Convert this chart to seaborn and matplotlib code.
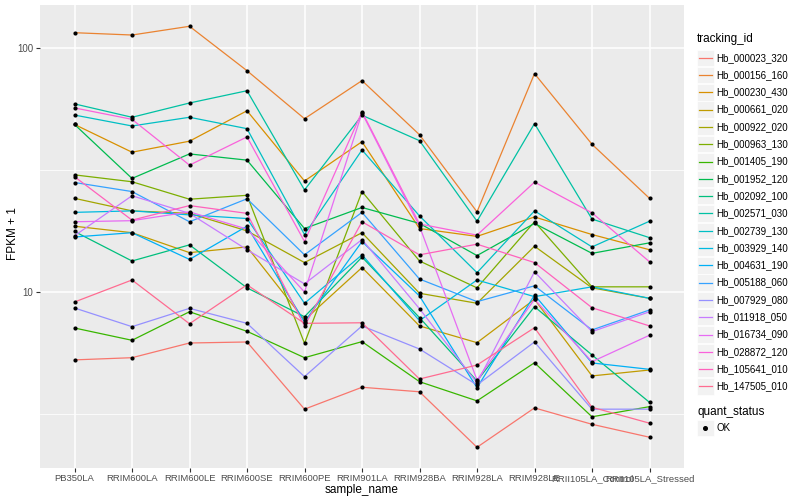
import matplotlib
matplotlib.use("Agg")
import matplotlib.pyplot as plt
from matplotlib.lines import Line2D
from matplotlib.patches import Rectangle
from matplotlib.ticker import FixedLocator, NullFormatter
import pandas as pd
import seaborn as sns

# samples on the x axis
samples = ["PB350LA", "RRIM600LA", "RRIM600LE", "RRIM600SE", "RRIM600PE", "RRIM901LA",
           "RRIM928BA", "RRIM928LA", "RRIM928LE", "RRII105LA_Control", "RRII105LA_Stressed"]

# FPKM + 1 per gene
hb_000023_320 = [5.27, 5.38, 6.18, 6.24, 3.31, 4.07, 3.90, 2.31, 3.35, 2.87, 2.54]
hb_000156_160 = [115.5, 113, 122.7, 80.7, 51.3, 73.5, 44.1, 21.3, 78.5, 40.3, 24.2]
hb_000230_430 = [48.6, 37.4, 41.5, 55.3, 28.5, 41.3, 18.2, 16.9, 20.3, 17.2, 14.9]
hb_000661_020 = [18.6, 17.5, 14.5, 15.3, 7.68, 12.6, 7.26, 6.20, 9.33, 4.53, 4.79]
hb_000922_020 = [24.2, 21.5, 21.0, 17.8, 13.2, 17.5, 9.88, 8.99, 15.4, 10.4, 9.42]
hb_000963_130 = [30.2, 28.3, 24.0, 24.9, 6.16, 25.8, 13.4, 10.4, 19.4, 10.5, 10.5]
hb_001405_190 = [7.12, 6.34, 8.30, 6.90, 5.38, 6.26, 4.29, 3.58, 5.13, 3.08, 3.39]
hb_001952_120 = [48.6, 29.2, 36.8, 34.7, 18.2, 22.2, 19.1, 14.1, 19.1, 14.4, 15.9]
hb_002092_100 = [17.7, 13.4, 15.6, 10.4, 7.92, 13.9, 7.85, 4.32, 8.71, 5.52, 3.53]
hb_002571_030 = [59.0, 52.0, 59.5, 66.8, 26.2, 53.0, 41.7, 19.5, 49.0, 19.9, 16.7]
hb_002739_130 = [53.1, 47.9, 52.0, 46.7, 17.2, 38.2, 20.5, 12.0, 21.5, 15.3, 19.5]
hb_003929_140 = [21.2, 21.5, 20.7, 20.0, 8.99, 14.2, 7.63, 11.2, 9.57, 10.5, 9.42]
hb_004631_190 = [16.8, 17.5, 13.6, 18.6, 7.53, 16.1, 9.63, 4.05, 9.72, 5.12, 4.82]
hb_005188_060 = [28.1, 25.8, 19.4, 24.1, 14.2, 21.2, 11.3, 9.13, 10.6, 6.99, 8.44]
hb_007929_080 = [8.60, 7.21, 8.57, 7.44, 4.50, 7.26, 5.84, 4.16, 6.24, 3.31, 3.31]
hb_011918_050 = [17.0, 24.8, 21.0, 14.9, 10.8, 16.4, 8.54, 4.24, 12.1, 6.88, 8.30]
hb_016734_090 = [19.4, 19.6, 21.3, 18.1, 10.0, 54.2, 18.6, 4.36, 9.33, 5.18, 6.65]
hb_028872_120 = [56.8, 51.0, 33.1, 43.2, 16.1, 54.8, 19.0, 17.1, 28.2, 21.1, 13.3]
hb_105641_010 = [29.7, 19.7, 22.6, 21.0, 7.26, 19.4, 14.2, 15.7, 13.2, 8.62, 7.26]
hb_147505_010 = [9.10, 11.2, 7.41, 10.7, 7.44, 7.48, 4.40, 5.02, 7.14, 3.37, 2.90]

tracking_ids = ["Hb_000023_320", "Hb_000156_160", "Hb_000230_430", "Hb_000661_020",
                "Hb_000922_020", "Hb_000963_130", "Hb_001405_190", "Hb_001952_120",
                "Hb_002092_100", "Hb_002571_030", "Hb_002739_130", "Hb_003929_140",
                "Hb_004631_190", "Hb_005188_060", "Hb_007929_080", "Hb_011918_050",
                "Hb_016734_090", "Hb_028872_120", "Hb_105641_010", "Hb_147505_010"]
series = [hb_000023_320, hb_000156_160, hb_000230_430, hb_000661_020, hb_000922_020,
          hb_000963_130, hb_001405_190, hb_001952_120, hb_002092_100, hb_002571_030,
          hb_002739_130, hb_003929_140, hb_004631_190, hb_005188_060, hb_007929_080,
          hb_011918_050, hb_016734_090, hb_028872_120, hb_105641_010, hb_147505_010]

# ggplot2 default hue palette for 20 levels
colors = ["#F8766D", "#EA8331", "#D89000", "#C09B00", "#A3A500", "#7CAE00", "#39B600",
          "#00BB4E", "#00BF7D", "#00C1A3", "#00BFC4", "#00BAE0", "#00B0F6", "#35A2FF",
          "#9590FF", "#C77CFF", "#E76BF3", "#FA62DB", "#FF62BC", "#FF6C91"]
palette = dict(zip(tracking_ids, colors))

rows = []
for tid, vals in zip(tracking_ids, series):
    for s, v in zip(samples, vals):
        rows.append({"tracking_id": tid, "sample_name": s, "fpkm": v, "quant_status": "OK"})
df = pd.DataFrame(rows)

plt.rcParams["font.family"] = ["Liberation Sans", "DejaVu Sans"]

fig = plt.figure(figsize=(8, 5), dpi=100)
ax = fig.add_axes([40 / 800, 1 - 468 / 500, 644 / 800, 463 / 500])
ax.set_facecolor("#EBEBEB")

sns.lineplot(data=df, x="sample_name", y="fpkm", hue="tracking_id", palette=palette,
             estimator=None, sort=False, legend=False, linewidth=0.9, ax=ax)
sns.scatterplot(data=df, x="sample_name", y="fpkm", color="black", s=9, marker="o",
                linewidth=0, legend=False, zorder=3, ax=ax)

ax.set_yscale("log")
ax.set_ylim(1.90, 150)
ax.set_xlim(-0.6, len(samples) - 0.4)
ax.yaxis.set_major_locator(FixedLocator([10, 100]))
ax.set_yticklabels(["10", "100"])
ax.yaxis.set_minor_locator(FixedLocator([10 ** 0.5, 10 ** 1.5]))
ax.yaxis.set_minor_formatter(NullFormatter())

ax.set_axisbelow(True)
ax.grid(True, which="major", color="white", linewidth=1.1)
ax.grid(True, which="minor", axis="y", color="white", linewidth=0.55)
for sp in ax.spines.values():
    sp.set_visible(False)
ax.tick_params(which="major", length=3, width=0.8, color="#333333",
               labelsize=7, labelcolor="#4D4D4D", pad=2)
ax.tick_params(axis="x", which="major", labelsize=6.8, pad=1.2)
ax.tick_params(which="minor", length=0)
ax.set_xlabel("")
ax.set_ylabel("")

fig.text(362 / 800, 1 - 490 / 500, "sample_name", ha="center", va="center", fontsize=8.5)
fig.text(13 / 800, 1 - 234 / 500, "FPKM + 1", ha="center", va="center",
         rotation=90, fontsize=8.5)

# legends drawn in pixel space
leg = fig.add_axes([0, 0, 1, 1])
leg.set_xlim(0, 800)
leg.set_ylim(500, 0)
leg.axis("off")

leg.text(697, 39, "tracking_id", ha="left", va="center", fontsize=8.5)
for i, tid in enumerate(tracking_ids):
    cy = 57.7 + i * 17.3
    leg.add_patch(Rectangle((697, cy - 8.2), 16.5, 16.4, facecolor="#F2F2F2",
                            edgecolor="white", linewidth=0.5))
    leg.add_line(Line2D([698.5, 711.5], [cy, cy], color=palette[tid], linewidth=0.9))
    leg.text(716.5, cy, tid, ha="left", va="center", fontsize=7)

leg.text(697, 412, "quant_status", ha="left", va="center", fontsize=8.5)
leg.add_patch(Rectangle((697, 420), 16.5, 16.4, facecolor="#F2F2F2",
                        edgecolor="white", linewidth=0.5))
leg.plot([705.2], [428.2], marker="o", color="black", markersize=2.6, linestyle="none")
leg.text(716.5, 428.2, "OK", ha="left", va="center", fontsize=7)

fig.savefig("out.png", dpi=100)
